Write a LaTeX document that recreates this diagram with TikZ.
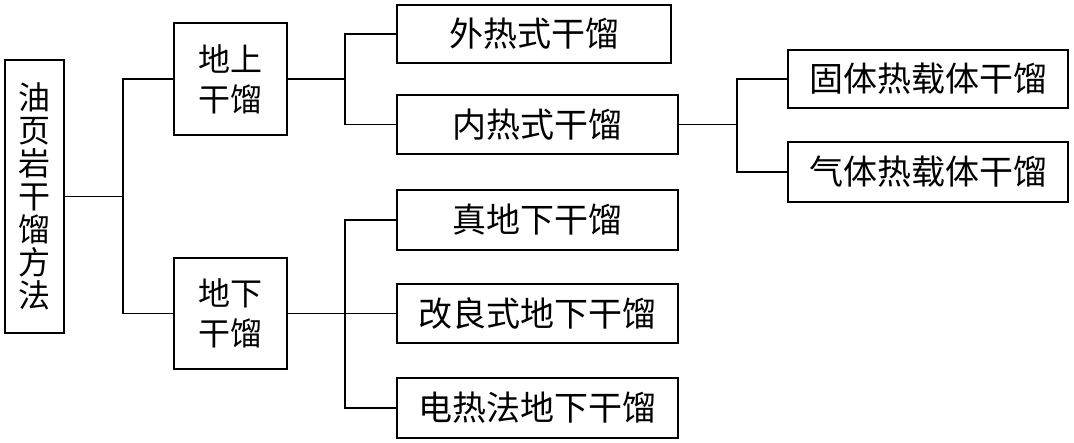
\documentclass[tikz,border=0pt]{standalone}
\usepackage{fontspec}
\newfontfamily\cjk{Noto Sans CJK SC}
\begin{document}
\begin{tikzpicture}[x=1pt,y=-1pt,
  box/.style={draw=black, line width=1.5pt, inner sep=0pt, align=center, font=\cjk\fontsize{34}{40}\selectfont},
  link/.style={draw=black, line width=1.5pt}]
\useasboundingbox (0,0) rectangle (1074,442);
\fill[white] (0,0) rectangle (1074,442);
% nodes
\node[box, minimum width=59pt, minimum height=273pt, font=\cjk\fontsize{32}{33}\selectfont] (root) at (34.5,196.5) {油\\页\\岩\\干\\馏\\方\\法};
\node[box, minimum width=113pt, minimum height=112pt, font=\cjk\fontsize{32}{40}\selectfont] (up) at (230.5,79) {地上\\干馏};
\node[box, minimum width=113pt, minimum height=111pt, font=\cjk\fontsize{32}{40}\selectfont] (down) at (230.5,313.5) {地下\\干馏};
\node[box, minimum width=274pt, minimum height=58pt] (a1) at (534,34) {外热式干馏};
\node[box, minimum width=281pt, minimum height=59pt] (a2) at (537.5,124.5) {内热式干馏};
\node[box, minimum width=281pt, minimum height=60pt] (b1) at (537.5,220) {真地下干馏};
\node[box, minimum width=281pt, minimum height=59pt] (b2) at (537.5,313.5) {改良式地下干馏};
\node[box, minimum width=281pt, minimum height=60pt] (b3) at (537.5,408) {电热法地下干馏};
\node[box, minimum width=280pt, minimum height=58pt] (c1) at (928,79) {固体热载体干馏};
\node[box, minimum width=280pt, minimum height=60pt] (c2) at (928,172) {气体热载体干馏};
% junction coordinates
\coordinate (t1) at (123,0);
\coordinate (t2) at (345,0);
\coordinate (t3) at (737,0);
% connectors
\draw[link] (root.east) -- (root.east -| t1);
\draw[link] (up.west) -| (t1 |- down.west) -- (down.west);
\draw[link] (up.east) -- (up.east -| t2);
\draw[link] (a1.west) -| (t2 |- a2.west) -- (a2.west);
\draw[link] (down.east) -- (b2.west);
\draw[link] (b1.west) -| (t2 |- b3.west) -- (b3.west);
\draw[link] (a2.east) -- (a2.east -| t3);
\draw[link] (c1.west) -| (t3 |- c2.west) -- (c2.west);
\end{tikzpicture}
\end{document}
